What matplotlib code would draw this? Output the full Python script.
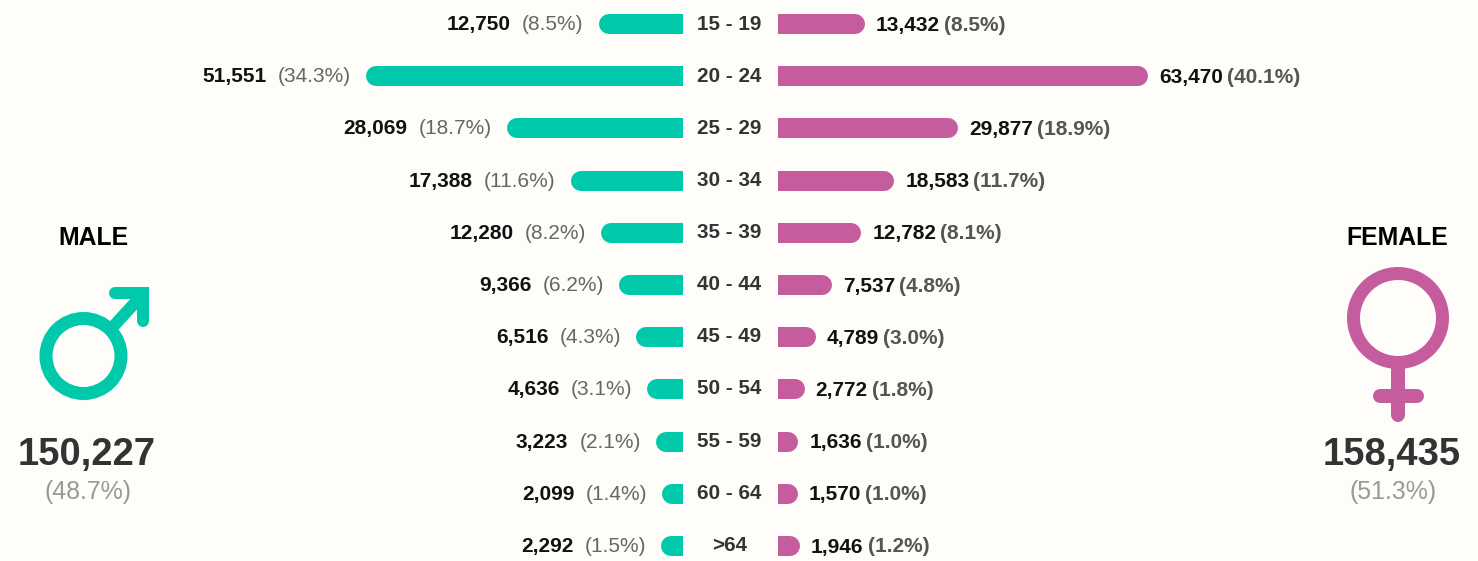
"""Age and gender breakdown: mirrored rounded bars with gender symbols at the sides."""
import matplotlib
matplotlib.use("Agg")
import matplotlib.pyplot as plt
from matplotlib.patches import Circle

W, H = 1478, 561

AGES = ["15 - 19", "20 - 24", "25 - 29", "30 - 34", "35 - 39", "40 - 44",
        "45 - 49", "50 - 54", "55 - 59", "60 - 64", ">64"]
MALE = [12750, 51551, 28069, 17388, 12280, 9366, 6516, 4636, 3223, 2099, 2292]
FEMALE = [13432, 63470, 29877, 18583, 12782, 7537, 4789, 2772, 1636, 1570, 1946]
MALE_PCT = [8.5, 34.3, 18.7, 11.6, 8.2, 6.2, 4.3, 3.1, 2.1, 1.4, 1.5]
FEMALE_PCT = [8.5, 40.1, 18.9, 11.7, 8.1, 4.8, 3.0, 1.8, 1.0, 1.0, 1.2]
MALE_TOTAL, MALE_SHARE = 150227, 48.7
FEMALE_TOTAL, FEMALE_SHARE = 158435, 51.3

GREEN = "#00c9ab"
PINK = "#c55c9e"
BG = "#fffdfa"
FONT = "Liberation Sans"

ROW0, ROW_STEP = 24, 52.2
BAR_PX = 20
MALE_EDGE, FEMALE_EDGE = 683, 778
MALE_SCALE, FEMALE_SCALE = 0.0060, 0.00566   # px per person


def pt(px):
    return px * 72 / 100


def bar_axes(fig, x0, x1, scale, offset, flip):
    # zero sits offset px from the inner edge, the round cap adds the rest
    ax = fig.add_axes([x0 / W, 0, (x1 - x0) / W, 1])
    span = (x1 - x0) / scale
    if flip:
        ax.set_xlim(span - offset / scale, -offset / scale)
    else:
        ax.set_xlim(-offset / scale, span - offset / scale)
    ax.set_ylim((H - ROW0) / ROW_STEP, -ROW0 / ROW_STEP)
    ax.axis("off")
    return ax


def draw_bars(ax, values, color):
    # start past the inner edge so the axes clip gives the flat end
    start = min(ax.get_xlim()) - 3000
    for i, v in enumerate(values):
        ax.plot([start, v], [i, i], color=color, lw=pt(BAR_PX), solid_capstyle="round")


def main():
    fig = plt.figure(figsize=(W / 100, H / 100), dpi=100, facecolor=BG)

    left = bar_axes(fig, 0, MALE_EDGE, MALE_SCALE, -2, True)
    right = bar_axes(fig, FEMALE_EDGE, W, FEMALE_SCALE, 1, False)
    draw_bars(left, MALE, GREEN)
    draw_bars(right, FEMALE, PINK)

    # overlay in image pixels for text and symbols
    ov = fig.add_axes([0, 0, 1, 1])
    ov.set_xlim(0, W)
    ov.set_ylim(H, 0)
    ov.axis("off")
    ov.patch.set_alpha(0)
    fig.canvas.draw()
    renderer = fig.canvas.get_renderer()
    tr = ov.transData

    size = 15.0
    for i, age in enumerate(AGES):
        row = ROW0 + ROW_STEP * i
        ov.text(729.5, row - 0.07 * i, age, ha="center", va="center", fontsize=14.9,
                fontweight="bold", color="#333333", family=FONT)

        # male labels run right to left from the bar end
        end = tr.inverted().transform(left.transData.transform((MALE[i], i)))[0] - BAR_PX / 2
        pct = ov.text(end - 15, row + 0.5, f"({MALE_PCT[i]:.1f}%)", ha="right", va="center",
                      fontsize=size, color="#666666", family=FONT)
        box = pct.get_window_extent(renderer)
        ov.text(box.x0 - 11, row + 0.5, f"{MALE[i]:,}", ha="right", va="center",
                fontsize=size, fontweight="bold", color="#111111", family=FONT)

        # female labels run left to right
        end = tr.inverted().transform(right.transData.transform((FEMALE[i], i)))[0] + BAR_PX / 2
        val = ov.text(end + 11, row + 1, f"{FEMALE[i]:,}", ha="left", va="center",
                      fontsize=size, fontweight="bold", color="#111111", family=FONT)
        box = val.get_window_extent(renderer)
        ov.text(box.x1 + 4, row + 1, f"({FEMALE_PCT[i]:.1f}%)", ha="left", va="center",
                fontsize=size, fontweight="bold", color="#555555", family=FONT)

    # side panels
    for cx, name in [(93, "MALE"), (1397, "FEMALE")]:
        ov.text(cx, 238, name, ha="center", va="center", fontsize=17.8, fontweight="bold",
                color="#000000", family=FONT)
    for cx, total, share in [(87, MALE_TOTAL, MALE_SHARE), (1392, FEMALE_TOTAL, FEMALE_SHARE)]:
        ov.text(cx - 0.5, 455, f"{total:,}", ha="center", va="center", fontsize=27.5,
                fontweight="bold", color="#333333", family=FONT)
        ov.text(cx + 1, 492, f"({share:.1f}%)", ha="center", va="center", fontsize=17.9,
                color="#999999", family=FONT)

    # male symbol
    ov.add_patch(Circle((83.5, 356), 37.5, fill=False, ec=GREEN, lw=pt(13)))
    ov.plot([110, 143], [330, 294], color=GREEN, lw=pt(12), solid_capstyle="butt")
    ov.plot([115, 142.5, 142.5], [293, 293, 321], color=GREEN, lw=pt(12),
            solid_capstyle="round", solid_joinstyle="miter")

    # female symbol
    ov.add_patch(Circle((1398, 318), 44.5, fill=False, ec=PINK, lw=pt(13)))
    ov.plot([1398, 1398], [365, 415], color=PINK, lw=pt(14), solid_capstyle="round")
    ov.plot([1380, 1417], [396, 396], color=PINK, lw=pt(14), solid_capstyle="round")

    fig.savefig("out.png", dpi=100, facecolor=BG)
    plt.close(fig)


if __name__ == "__main__":
    main()
